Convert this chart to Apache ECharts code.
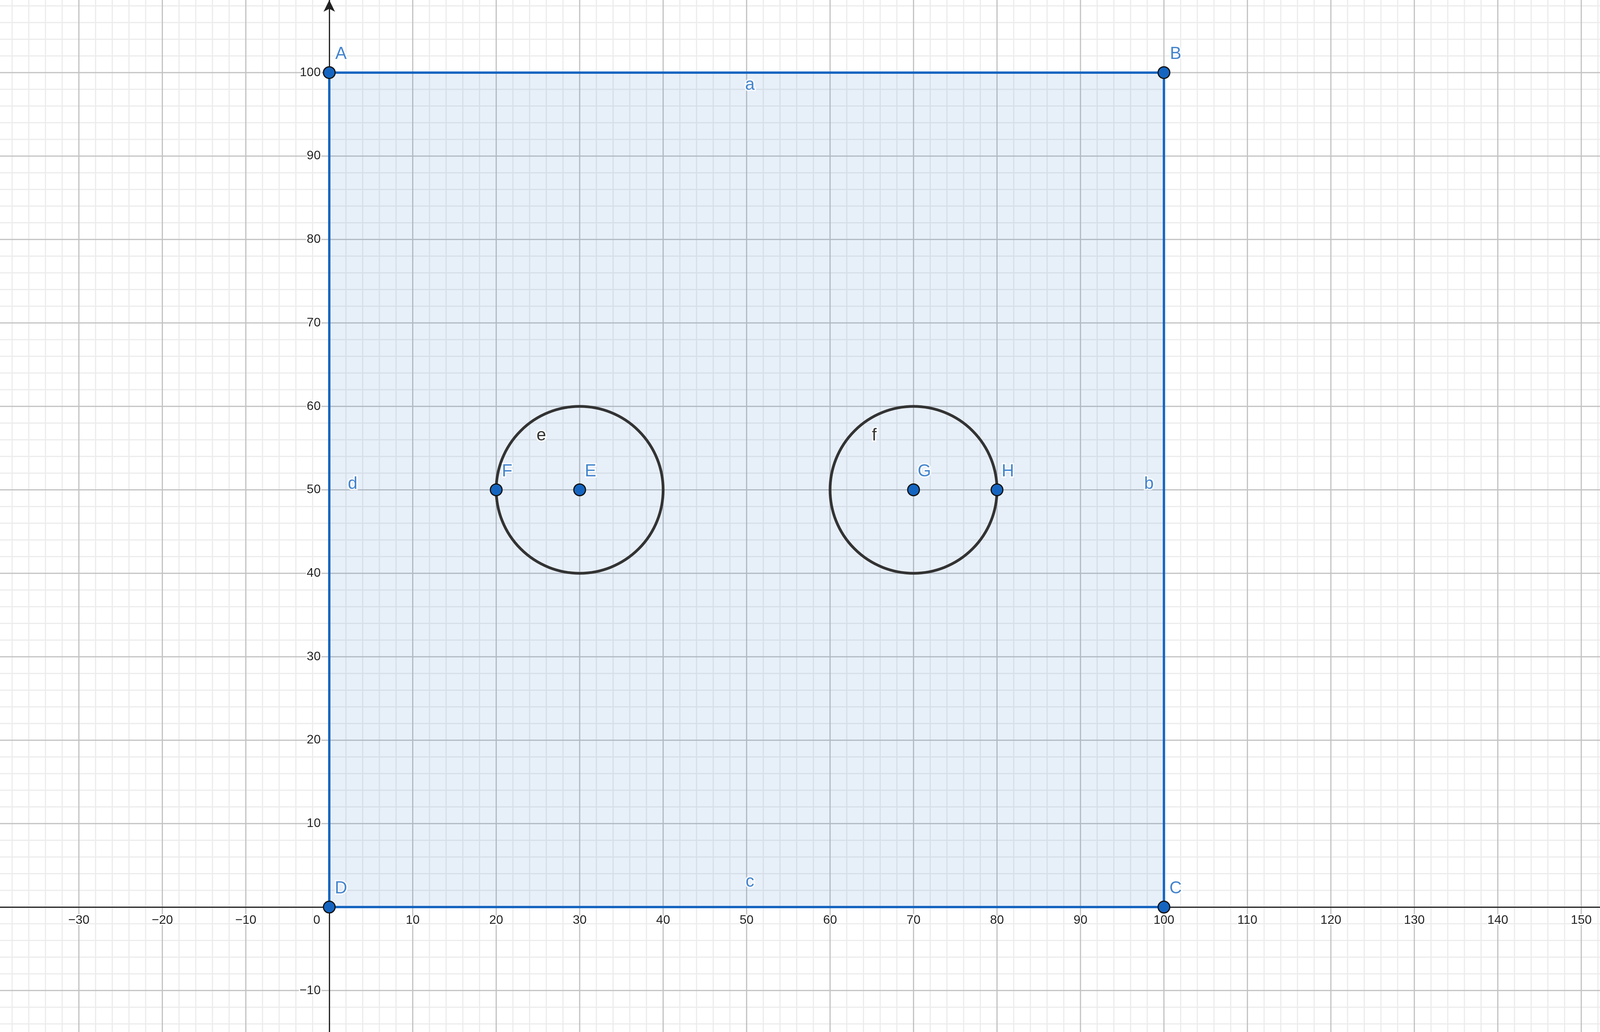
<!DOCTYPE html>
<html>
<head>
<meta charset="utf-8">
<script src="https://cdn.jsdelivr.net/npm/echarts@6/dist/echarts.min.js"></script>
<style>html,body{margin:0;padding:0;background:#fff}#main{width:4563px;height:2643px}</style>
</head>
<body>
<div id="main"></div>
<script>
// visible window of the graphing view
var xMin = -39.45, xMax = 174.1;
var yMin = -14.97, yMax = 108.7;
// tick labels / grid lines
var xTicks = [-30, -20, -10, 0, 10, 20, 30, 40, 50, 60, 70, 80, 90, 100, 110, 120, 130, 140, 150, 160, 170];
var yTicks = [-10, 10, 20, 30, 40, 50, 60, 70, 80, 90, 100];
var minorStep = 2;
// square corners A B C D
var squareX = [0, 100, 100, 0];
var squareY = [100, 100, 0, 0];
// circles e, f : centre and radius
var circleX = [30, 70];
var circleY = [50, 50];
var circleR = [10, 10];
// points
var pointNames = ['A', 'B', 'C', 'D', 'E', 'F', 'G', 'H'];
var pointX = [0, 100, 100, 0, 30, 20, 70, 80];
var pointY = [100, 100, 0, 0, 50, 50, 50, 50];
// object labels
var labelNames = ['A', 'B', 'C', 'D', 'E', 'F', 'G', 'H', 'a', 'b', 'c', 'd', 'e', 'f'];
var labelX = [1.4, 101.4, 101.4, 1.4, 31.3, 21.3, 71.3, 81.3, 50.4, 98.2, 50.4, 2.8, 25.4, 65.3];
var labelY = [102.2, 102.2, 2.2, 2.2, 52.2, 52.2, 52.2, 52.2, 98.5, 50.7, 3.0, 50.7, 56.5, 56.5];
var labelColors = ['#1565c0', '#1565c0', '#1565c0', '#1565c0', '#1565c0', '#1565c0', '#1565c0', '#1565c0',
  '#1565c0', '#1565c0', '#1565c0', '#1565c0', '#000', '#000'];

var FONT = 'Liberation Sans';
var chart = echarts.init(document.getElementById('main'));

function tickFmt(v) {
  return String(v).replace('-', '\u2212');
}

// grid lines: [isX, value, isMajor]
var gridData = [];
for (var v = -40; v <= 176; v += minorStep) gridData.push([1, v, v % 10 === 0 ? 1 : 0]);
for (var w = -16; w <= 110; w += minorStep) gridData.push([0, w, w % 10 === 0 ? 1 : 0]);
gridData.sort(function (a, b) { return a[2] - b[2]; });

var labelStyle = {
  fontFamily: FONT, fontSize: 32, fill: '#222',
  stroke: '#fff', lineWidth: 6
};

var option = {
  backgroundColor: '#fff',
  animation: false,
  grid: { left: 0, right: 0, top: 0, bottom: 0, containLabel: false },
  xAxis: {
    type: 'value', min: xMin, max: xMax,
    axisLine: { onZero: true, lineStyle: { color: '#222', width: 3 }, symbol: ['none', 'arrow'], symbolSize: [22, 30] },
    axisTick: { show: false }, axisLabel: { show: false }, splitLine: { show: false }
  },
  yAxis: {
    type: 'value', min: yMin, max: yMax,
    axisLine: { onZero: true, lineStyle: { color: '#222', width: 3 }, symbol: ['none', 'arrow'], symbolSize: [22, 30] },
    axisTick: { show: false }, axisLabel: { show: false }, splitLine: { show: false }
  },
  series: [
    {
      type: 'custom',
      coordinateSystem: 'cartesian2d',
      data: gridData,
      z: 0,
      silent: true,
      renderItem: function (params, api) {
        var isX = api.value(0), val = api.value(1), major = api.value(2);
        var p1 = isX ? api.coord([val, yMin]) : api.coord([xMin, val]);
        var p2 = isX ? api.coord([val, yMax]) : api.coord([xMax, val]);
        return {
          type: 'line',
          shape: { x1: p1[0], y1: p1[1], x2: p2[0], y2: p2[1] },
          style: { stroke: major ? '#c2c2c2' : '#ececec', lineWidth: 3 }
        };
      }
    },
    {
      type: 'custom',
      coordinateSystem: 'cartesian2d',
      data: [0],
      z: 2,
      renderItem: function (params, api) {
        var pts = squareX.map(function (x, i) { return api.coord([x, squareY[i]]); });
        return {
          type: 'polygon',
          shape: { points: pts },
          style: { fill: 'rgba(21,101,192,0.1)', stroke: '#1565c0', lineWidth: 6 }
        };
      }
    },
    {
      type: 'custom',
      coordinateSystem: 'cartesian2d',
      data: xTicks,
      z: 4,
      silent: true,
      renderItem: function (params, api) {
        var v = api.value(0);
        var p = api.coord([v, 0]);
        return {
          type: 'text',
          x: p[0] + (v === 0 ? -32 : 0), y: p[1] + 18,
          style: echarts.util.extend({ text: tickFmt(v), align: 'center', verticalAlign: 'top' }, labelStyle)
        };
      }
    },
    {
      type: 'custom',
      coordinateSystem: 'cartesian2d',
      data: yTicks,
      z: 4,
      silent: true,
      renderItem: function (params, api) {
        var v = api.value(0);
        var p = api.coord([0, v]);
        return {
          type: 'text',
          x: p[0] - 22, y: p[1],
          style: echarts.util.extend({ text: tickFmt(v), align: 'right', verticalAlign: 'middle' }, labelStyle)
        };
      }
    },
    {
      type: 'custom',
      coordinateSystem: 'cartesian2d',
      data: circleX.map(function (x, i) { return [x, circleY[i], circleR[i]]; }),
      z: 3,
      renderItem: function (params, api) {
        var c = api.coord([api.value(0), api.value(1)]);
        var r = api.size([api.value(2), 0])[0];
        return {
          type: 'circle',
          shape: { cx: c[0], cy: c[1], r: r },
          style: { fill: 'none', stroke: '#333', lineWidth: 7 }
        };
      }
    },
    {
      type: 'scatter',
      z: 5,
      symbolSize: 30,
      itemStyle: { color: '#1565c0', borderColor: '#111', borderWidth: 3, opacity: 1 },
      data: pointX.map(function (x, i) { return { name: pointNames[i], value: [x, pointY[i]] }; })
    },
    {
      type: 'scatter',
      z: 6,
      symbolSize: 0,
      silent: true,
      label: {
        show: true, position: 'inside', fontFamily: FONT, fontSize: 44,
        formatter: '{b}', textBorderColor: '#fff', textBorderWidth: 7
      },
      data: labelNames.map(function (n, i) {
        return { name: n, value: [labelX[i], labelY[i]], label: { color: labelColors[i] } };
      })
    }
  ]
};
chart.setOption(option);
</script>
</body>
</html>
